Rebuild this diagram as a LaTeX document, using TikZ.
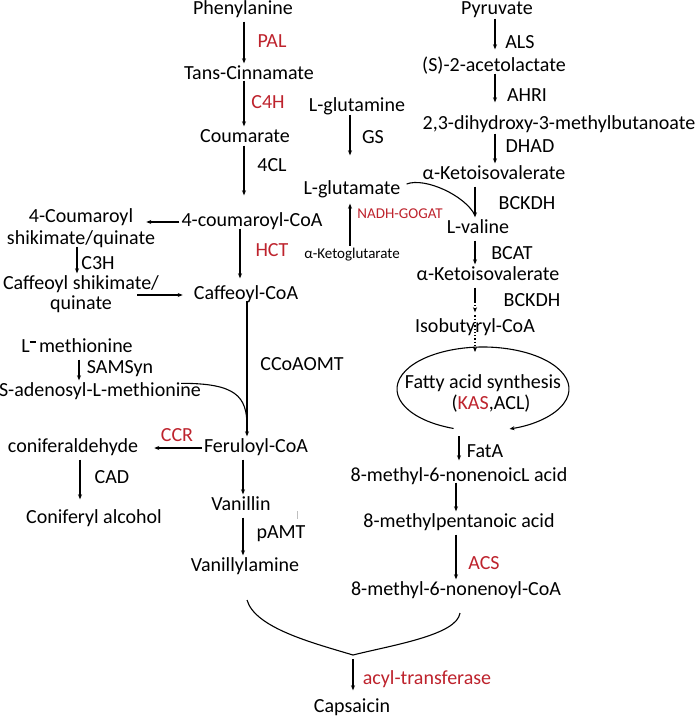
\documentclass[tikz,border=0pt]{standalone}
\usepackage{fontspec}
\setmainfont{Carlito}
\usetikzlibrary{arrows.meta,calc}
\definecolor{enz}{RGB}{190,35,45}
\begin{document}
\begin{tikzpicture}[x=1pt,y=-1pt,
  t/.style={inner sep=2pt,text height=14pt,text depth=5pt,font=\fontsize{20}{24}\selectfont},
  e/.style={t,text=enz},
  s/.style={inner sep=2pt,text height=10.5pt,text depth=4pt,font=\fontsize{15}{18}\selectfont},
  arr/.style={line width=1.1pt,-{Stealth[length=5pt,width=4pt]}},
  ln/.style={line width=1.1pt},
  dot/.style={line width=1.3pt,dotted}]
\useasboundingbox[fill=white] (0,0) rectangle (697,716);
% column coordinates
\coordinate (xA) at (244,0);
\coordinate (xB) at (240,0);
\coordinate (xC) at (247,0);
\coordinate (xD) at (243,0);
\coordinate (xE) at (77,0);
\coordinate (xF) at (79,0);
\coordinate (xG) at (80,0);
\coordinate (xR) at (495,0);
\coordinate (xV) at (475,0);
\coordinate (xGl) at (350,0);
\coordinate (xF1) at (459,0);
\coordinate (xF2) at (456,0);
% left column
\node[t] (phe) at (243,10) {Phenylanine};
\node[e] (pal) at (272,43) {PAL};
\node[t] (tc) at (249,75) {Tans-Cinnamate};
\node[e] (c4h) at (268,104) {C4H};
\node[t] (cou) at (245,138) {Coumarate};
\node[t] (fcl) at (272,167) {4CL};
\node[t] (cca) at (252,222) {4-coumaroyl-CoA};
\node[t] (csq1) at (81,218) {4-Coumaroyl};
\node[t] (csq2) at (81,240) {shikimate/quinate};
\node[t] (c3h) at (98,265) {C3H};
\node[t] (caf1) at (81,285) {Caffeoyl shikimate/};
\node[t] (caf2) at (81,305) {quinate};
\node[e] (hct) at (272,252) {HCT};
\node[t] (cc) at (246,295) {Caffeoyl-CoA};
\node[t] (meth) at (77,348) {L\raisebox{10pt}{\rule{6pt}{1.4pt}}\,methionine};
\node[t] (sams) at (120,369) {SAMSyn};
\node[t] (sam) at (100,392) {S-adenosyl-L-methionine};
\node[t] (ccoa) at (302,366) {CCoAOMT};
\node[t] (fer) at (256,448) {Feruloyl-CoA};
\node[e] (ccr) at (177,437) {CCR};
\node[t] (con) at (73,448) {coniferaldehyde};
\node[t] (cad) at (112,479) {CAD};
\node[t] (cal) at (94,519) {Coniferyl alcohol};
\node[t] (van) at (241,506) {Vanillin};
\node[t] (pamt) at (281,534) {pAMT};
\node[t] (vna) at (245,567) {Vanillylamine};
\node[e] (acyl) at (427,680) {acyl-transferase};
\node[t] (cap) at (352,708) {Capsaicin};
% right column
\node[t] (pyr) at (497,10) {Pyruvate};
\node[t] (als) at (520,44) {ALS};
\node[t] (sac) at (494,67) {(S)-2-acetolactate};
\node[t] (ahri) at (527,97) {AHRI};
\node[t] (lgn) at (357,107) {L-glutamine};
\node[t] (gs) at (373,139) {GS};
\node[t] (dhm) at (559,125) {2,3-dihydroxy-3-methylbutanoate};
\node[t] (dhad) at (530,148) {DHAD};
\node[t] (kiv1) at (494,175) {α-Ketoisovalerate};
\node[t] (lgt) at (352,190) {L-glutamate};
\node[s,text=enz] (nadh) at (400,215) {NADH-GOGAT};
\node[s] (akg) at (352,255) {α-Ketoglutarate};
\node[t] (bckdh1) at (527,205) {BCKDH};
\node[t] (lval) at (478,229) {L-valine};
\node[t] (bcat) at (512,255) {BCAT};
\node[t] (kiv2) at (488,276) {α-Ketoisovalerate};
\node[t] (bckdh2) at (532,302) {BCKDH};
\node[t] (iso) at (475,328) {Isobutyryl-CoA};
\node[t] (fas) at (483,384) {Fatty acid synthesis};
\node[t] (kas) at (491,405) {(\textcolor{enz}{KAS},ACL)};
\node[t] (fata) at (485,453) {FatA};
\node[t] (mna) at (459,477) {8-methyl-6-nonenoicL acid};
\node[t] (mpa) at (459,523) {8-methylpentanoic acid};
\node[e] (acs) at (484,565) {ACS};
\node[t] (mnc) at (456,591) {8-methyl-6-nonenoyl-CoA};
% left arrows
\draw[arr] (phe.south -| xA) -- (tc.north -| xA);
\draw[arr,shorten <=-6pt] (tc.south -| xA) -- (cou.north -| xA);
\draw[arr,shorten <=-4pt,shorten >=15pt] (cou.south -| xA) -- (cca.north -| xA);
\draw[arr,shorten >=11pt] (cca.west) -- (cca.west -| csq1.east);
\draw[arr,shorten <=-5pt] (csq2.south -| xE) -- (caf1.north -| xE);
\draw[arr,shorten <=23pt,shorten >=9pt] (cc.west -| caf2.east) -- (cc.west);
\draw[arr,shorten <=-5pt,shorten >=5pt] (cca.south -| xB) -- (cc.north -| xB);
\draw[arr,shorten <=-6pt] (cc.south -| xC) -- (fer.north -| xC);
\draw[arr] (meth.south -| xF) -- (sam.north -| xF);
\coordinate (samc) at ([xshift=-22pt,yshift=-3pt]sam.north east);
\draw[ln] (samc) .. controls +(55,0) and +(0,-30) .. ([yshift=10pt]fer.north -| xC);
\draw[arr,shorten >=14pt] (fer.west) -- (fer.west -| con.east);
\draw[arr,shorten >=8pt] (con.south -| xG) -- (cal.north -| xG);
\draw[arr] (fer.south -| xD) -- (van.north -| xD);
\draw[arr] (van.south -| xD) -- (vna.north -| xD);
\draw[line width=1pt,black!25] (297,511) -- (297,519);
% right arrows
\draw[arr,shorten <=-3pt,shorten >=6pt] (pyr.south -| xR) -- (sac.north -| xR);
\draw[arr,shorten <=-5pt,shorten >=11pt] (sac.south -| xR) -- (dhm.north -| xR);
\draw[arr,shorten <=-3pt] (dhm.south -| xR) -- (kiv1.north -| xR);
\draw[arr,shorten <=-4pt,shorten >=23pt] (lgn.south -| xGl) -- (lgt.north -| xGl);
\draw[arr,shorten >=2pt] (akg.north -| xGl) -- (lgt.south -| xGl);
\draw[arr] (kiv1.south -| xV) -- (lval.north -| xV);
\draw[ln] ([xshift=4pt,yshift=6pt]lgt.east) .. controls +(18,-7) and +(-10,-20) .. ([yshift=2pt]lval.north -| xV);
\draw[arr] (lval.south -| xV) -- (kiv2.north -| xV);
\coordinate (kmid) at ([yshift=-14pt]kiv2.south -| xV);
\draw[ln] (kiv2.south -| xV) -- (kmid);
\draw[dot,-{Stealth[length=5pt,width=4pt]}] (kmid) -- ([yshift=4pt]iso.north -| xV);
\coordinate (ec) at (483,389);
\coordinate (etop) at (475,352);
\draw[dot,-{Stealth[length=5pt,width=4pt]}] ([yshift=1pt]iso.north -| xV) -- (etop);
\draw[arr] ($(ec)+(110:86 and 42)$) arc[start angle=110,end angle=432,x radius=86,y radius=42];
\draw[arr,shorten <=-5pt,shorten >=5pt] (fata.north -| xF1) -- (mna.north -| xF1);
\draw[arr,shorten <=-6pt] (mna.south -| xF2) -- (mpa.north -| xF2);
\draw[arr] (mpa.south -| xF2) -- (mnc.north -| xF2);
% merge
\coordinate (bl) at (247,600);
\coordinate (br) at (460,613);
\coordinate (bm) at (353,655);
\draw[ln] (bl) .. controls +(8,28) and +(-40,-12) .. (bm);
\draw[ln] (br) .. controls +(-3,22) and +(40,-10) .. (bm);
\draw[arr,shorten <=4pt,shorten >=6pt] (bm) -- (cap.north -| bm);
\end{tikzpicture}
\end{document}
